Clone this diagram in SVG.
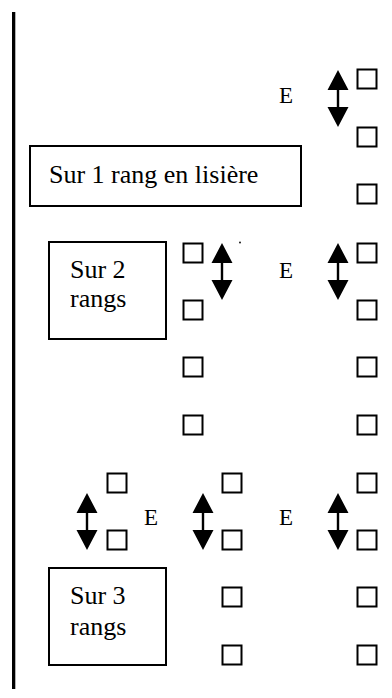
<svg xmlns="http://www.w3.org/2000/svg" width="392" height="698" viewBox="0 0 392 698">
<style>
.sq{fill:#fff;stroke:#000;stroke-width:2}
.box{fill:#fff;stroke:#000;stroke-width:2}
text{font-family:'Liberation Serif','Times New Roman','DejaVu Serif',serif;fill:#000}
.t{font-size:26px}
.e{font-size:23px}
.arr{fill:#000}
</style>
<defs>
<path id="dbl" d="M0,0 L10.5,20 L1.2,20 L1.2,37 L10.5,37 L0,57 L-10.5,37 L-1.2,37 L-1.2,20 L-10.5,20 Z"/>
<rect id="s" width="19" height="19"/>
</defs>
<rect x="12" y="12" width="3.3" height="677" fill="#000"/>
<g id="squares">
<use href="#s" class="sq" x="357.5" y="69.5"/>
<use href="#s" class="sq" x="357.5" y="127.5"/>
<use href="#s" class="sq" x="357.5" y="184.5"/>
<use href="#s" class="sq" x="357.5" y="243.5"/>
<use href="#s" class="sq" x="357.5" y="300.5"/>
<use href="#s" class="sq" x="357.5" y="357.5"/>
<use href="#s" class="sq" x="357.5" y="415.5"/>
<use href="#s" class="sq" x="357.5" y="473.5"/>
<use href="#s" class="sq" x="357.5" y="530.5"/>
<use href="#s" class="sq" x="357.5" y="587.5"/>
<use href="#s" class="sq" x="357.5" y="645.5"/>
<use href="#s" class="sq" x="183.5" y="243.5"/>
<use href="#s" class="sq" x="183.5" y="300.5"/>
<use href="#s" class="sq" x="183.5" y="357.5"/>
<use href="#s" class="sq" x="183.5" y="415.5"/>
<use href="#s" class="sq" x="222.5" y="473.5"/>
<use href="#s" class="sq" x="222.5" y="530.5"/>
<use href="#s" class="sq" x="222.5" y="587.5"/>
<use href="#s" class="sq" x="222.5" y="645.5"/>
<use href="#s" class="sq" x="107.5" y="473.5"/>
<use href="#s" class="sq" x="107.5" y="530.5"/>
<use href="#s" class="sq" x="107.5" y="645.5"/>
</g>
<g id="connectors">
<use href="#dbl" class="arr" x="338" y="70"/>
<use href="#dbl" class="arr" x="222" y="243"/>
<use href="#dbl" class="arr" x="338" y="243"/>
<use href="#dbl" class="arr" x="87" y="493"/>
<use href="#dbl" class="arr" x="203" y="493"/>
<use href="#dbl" class="arr" x="338" y="493"/>
</g>
<g id="labels">
<text class="e" x="279" y="103">E</text>
<text class="e" x="279" y="278">E</text>
<text class="e" x="144" y="525">E</text>
<text class="e" x="279" y="525">E</text>
<circle cx="240" cy="242.5" r="0.9" fill="#000"/>
</g>
<g id="box1">
<rect class="box" x="30" y="146" width="271" height="60"/>
<text class="t" x="49" y="183">Sur 1 rang en lisière</text>
</g>
<g id="box2">
<rect class="box" x="49" y="242" width="117" height="97"/>
<text class="t" x="70" y="278">Sur 2</text>
<text class="t" x="70" y="307">rangs</text>
</g>
<g id="box3">
<rect class="box" x="49" y="568" width="117" height="97"/>
<text class="t" x="70" y="604">Sur 3</text>
<text class="t" x="70" y="635">rangs</text>
</g>
</svg>
